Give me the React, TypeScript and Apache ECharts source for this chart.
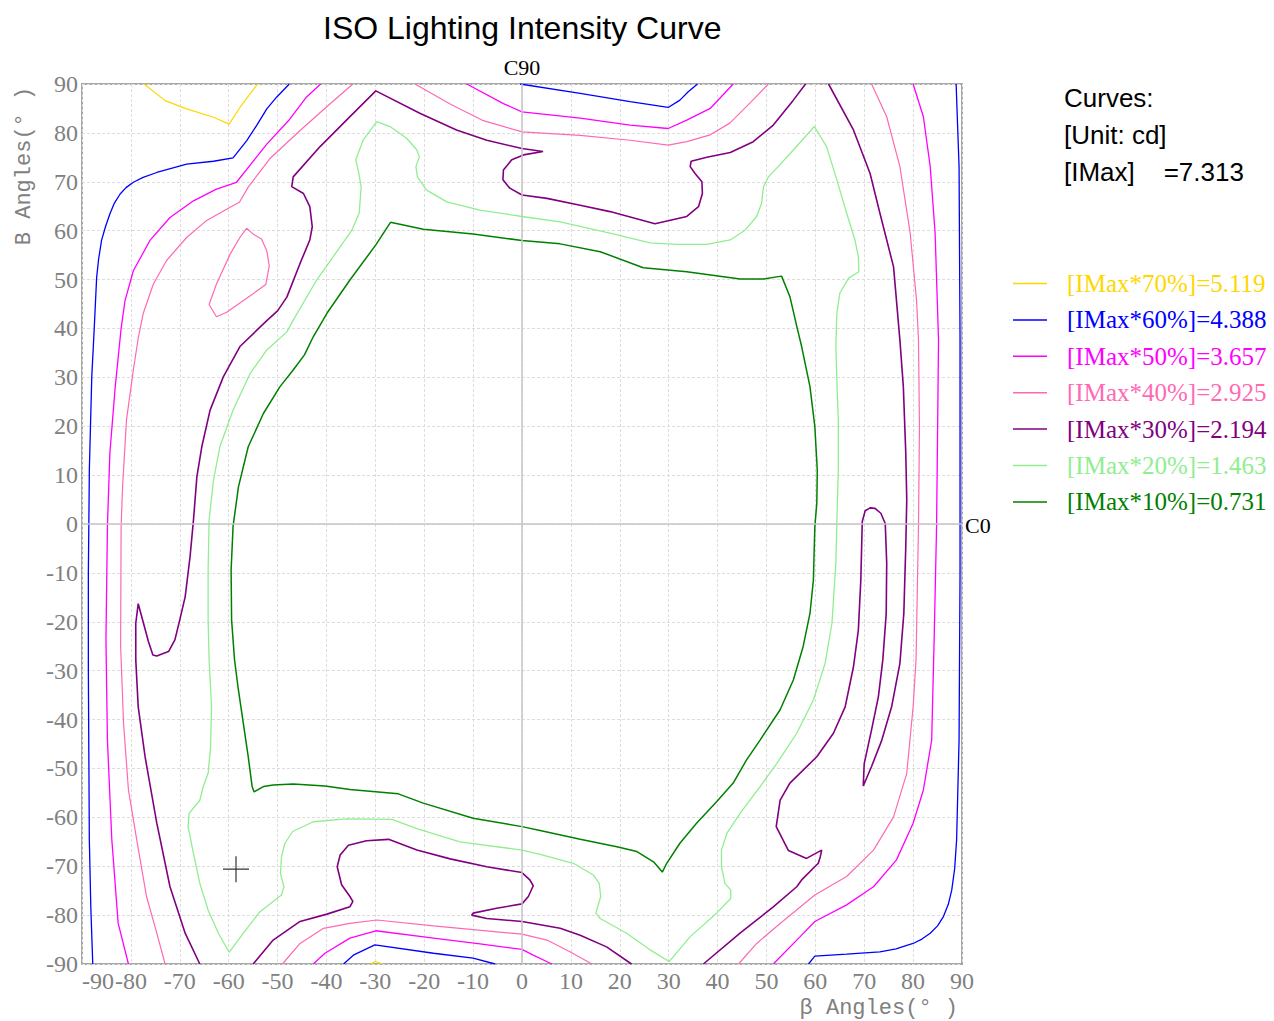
import React, { useEffect, useRef } from "react";
import * as echarts from "echarts";

// ---------- Data (β angle, B angle) ----------
const levelNames = [
  "[IMax*70%]=5.119",
  "[IMax*60%]=4.388",
  "[IMax*50%]=3.657",
  "[IMax*40%]=2.925",
  "[IMax*30%]=2.194",
  "[IMax*20%]=1.463",
  "[IMax*10%]=0.731",
];
const levelColors = ["#FFD700", "#0000FF", "#FF00FF", "#FF69B4", "#800080", "#90EE90", "#008000"];
const levelWidths = [1.2, 1.3, 1.3, 1.2, 1.6, 1.3, 1.5];

const xTicks = [-90, 90, 10];
const yTicks = [-90, 90, 10];

const yellowTop = [[-77.3, 90], [-73.0, 86.6], [-68.6, 84.9], [-63.1, 83.2], [-59.9, 81.8], [-57.7, 85.2], [-54.1, 90]];
const yellowBottom = [[-31, -90], [-30, -89.5], [-28.5, -90]];

const blueLeft = [[-47.6, 90], [-50.2, 87.3], [-52.2, 84.9], [-54.3, 81.5], [-56.3, 78.4], [-59.1, 74.9], [-63.1, 74.2], [-68.6, 73.6], [-74.7, 71.9], [-77.5, 70.9], [-79.5, 69.9], [-81.0, 68.8], [-82.2, 67.5], [-83.4, 65.6], [-84.3, 63.4], [-85.2, 60.8], [-86.0, 58.0], [-86.6, 54.2], [-87.0, 50.5], [-87.5, 40], [-88.0, 30.1], [-88.5, 11.0], [-88.6, 0], [-88.7, -10], [-88.7, -29.9], [-88.5, -64.6], [-88.2, -78.3], [-87.8, -90]];
const blueTop = [[-0.4, 90], [11.9, 88.1], [22.1, 86.4], [29.9, 85.2], [32.3, 86.7], [34.0, 88.4], [35.9, 90]];
const blueRight = [[88.8, 90], [89.4, 73.1], [89.6, 37.6], [89.6, -10], [89.4, -44.2], [88.9, -64.6], [88.5, -70.5], [87.9, -74.9], [87.2, -77.8], [86.2, -80.3], [85.0, -82.2], [83.5, -83.7], [81.8, -84.9], [80.0, -85.8], [76.5, -86.9], [73.2, -87.5], [66.4, -88.0], [59.9, -88.4], [58.6, -90]];
const blueBottom = [[-36.5, -90], [-34.5, -88.2], [-30.1, -86.1], [-18.1, -87.8], [-10.0, -88.8], [-5.5, -90]];

const magentaLeft = [[-41.2, 90], [-44.1, 87.3], [-47.5, 82.8], [-52.2, 77.7], [-58.4, 69.9], [-62.5, 68.5], [-67.2, 66.1], [-72.0, 62.7], [-76.1, 58.0], [-79.5, 51.8], [-81.2, 45.7], [-82.0, 40], [-83.2, 28.1], [-84.3, 14.5], [-84.8, -0.5], [-85.1, -23.7], [-84.8, -44.2], [-83.9, -64.6], [-82.6, -81.7], [-80.5, -90]];
const magentaTop = [[-11.3, 90], [-3.8, 86.0], [0.0, 84.3], [11.9, 83.0], [22.1, 81.6], [29.9, 80.9], [33.7, 82.6], [38.5, 85.0], [43.2, 90]];
const magentaRight = [[80.0, 90], [82.1, 83.3], [83.5, 73.1], [84.5, 59.5], [85.2, 37.6], [84.8, -0.5], [84.3, -23.7], [83.8, -44.2], [82.1, -54.4], [80.0, -61.2], [76.6, -68.7], [71.9, -74.2], [66.4, -77.9], [59.9, -81.3], [56.9, -84.4], [51.4, -90]];
const magentaBottom = [[-42.7, -90], [-40.3, -87.8], [-35.2, -84.7], [-29.9, -83.2], [-18.1, -84.7], [-8.6, -85.9], [0.0, -87.0], [2.3, -88.2], [6.1, -90]];

const pinkLeft = [[-34.6, 90], [-39.3, 85.9], [-45.4, 80.5], [-51.6, 74.7], [-56.0, 68.9], [-57.8, 65.8], [-59.7, 64.8], [-64.5, 62.1], [-68.6, 58.6], [-72.7, 53.9], [-75.4, 49.1], [-77.5, 43.0], [-78.5, 38], [-79.5, 31.5], [-80.9, 21.3], [-81.7, 7.6], [-82.0, -0.5], [-82.1, -25], [-81.5, -40.8], [-80.5, -54.4], [-78.8, -64.6], [-76.8, -76.2], [-74.7, -83.7], [-73.0, -90]];
const pinkIsland = [[-56.3, 60.5], [-55.0, 59.3], [-53.3, 58.3], [-52.2, 55.9], [-51.7, 52.8], [-52.4, 49.0], [-55.0, 47.1], [-58.0, 45.0], [-60.4, 43.3], [-62.5, 42.4], [-64.0, 44.9], [-62.5, 49.1], [-59.7, 55.2], [-57.7, 58.6], [-56.3, 60.5]];
const pinkTop = [[-21.9, 90], [-14.7, 85.9], [-7.9, 82.5], [0.0, 80.2], [11.9, 79.5], [22.1, 78.5], [29.9, 77.5], [33.7, 78.2], [38.5, 79.6], [42.5, 82.0], [46.6, 86.1], [50.4, 90]];
const pinkRight = [[71.5, 90], [74.6, 83.3], [77.3, 73.1], [79.4, 59.5], [80.7, 45.8], [81.1, 37.6], [81.3, 20], [81.1, -0.5], [80.6, -27.8], [80.0, -37.4], [78.7, -51.0], [76.0, -59.9], [71.9, -66.7], [66.4, -72.1], [59.9, -75.9], [52.8, -81.7], [48.0, -85.8], [44.3, -90]];
const pinkBottom = [[-49.0, -90], [-45.4, -85.8], [-40.6, -82.7], [-35.2, -81.7], [-29.7, -81.0], [-18.1, -82.2], [0.0, -83.9], [5.1, -85.1], [9.8, -87.5], [14.3, -90]];

const purpleLeftTop = [[-65.9, -90], [-68.9, -83.7], [-72.0, -74.2], [-74.7, -61.2], [-77.1, -47.6], [-78.5, -37.4], [-79.0, -27.8], [-79.0, -20.3], [-78.5, -16.3], [-76.4, -24.1], [-75.5, -26.8], [-74.7, -27.0], [-73.4, -26.5], [-72.3, -26.1], [-71.0, -23.7], [-70.0, -19.6], [-68.9, -14.9], [-67.9, -6.7], [-67.2, 0.8], [-66.5, 9.7], [-65.5, 15.8], [-63.8, 23.3], [-61.1, 30.1], [-57.7, 36.3], [-52.2, 41.6], [-50.0, 43.6], [-48.1, 46.4], [-45.4, 53.3], [-43.4, 58.1], [-42.9, 60.8], [-43.4, 64.9], [-44.7, 67.6], [-47.1, 69.0], [-46.8, 71.0], [-41.3, 77.2], [-35.9, 82.6], [-29.9, 88.6], [-20.9, 84.0], [-13.4, 80.6], [-7.2, 78.5], [0.0, 76.8], [4.3, 76.2], [0.3, 75.5], [-2.1, 74.5], [-3.8, 72.4], [-3.9, 70.4], [-2.5, 68.7], [0.0, 67.3], [5.1, 66.6], [11.9, 65.2], [18.0, 63.9], [27.2, 61.4], [33.7, 62.9], [36.1, 64.9], [36.9, 67.6], [36.8, 70.0], [35.4, 71.7], [34.4, 73.1], [34.6, 74.2], [37.8, 75.0], [42.6, 76.0], [47.3, 78.2], [51.4, 81.6], [55.5, 86.7], [58.0, 90]];
const purpleRight = [[62.7, 90], [67.8, 80.6], [71.2, 71.7], [73.2, 63.6], [76.0, 52.6], [77.3, 37.6], [78.0, 28.1], [78.5, 14.5], [78.7, 5], [78.5, -4.6], [78.1, -18.3], [77.3, -28.5], [75.6, -37.4], [73.6, -44.2], [71.5, -49.6], [69.8, -53.6], [70.0, -49.0], [71.5, -42.1], [72.9, -35.3], [73.8, -27.8], [74.5, -18.3], [74.6, -8.0], [74.3, 0.1], [73.4, 2.2], [72.2, 3.2], [71.2, 3.3], [70.2, 2.7], [69.6, 0.5], [69.3, -11.5], [68.8, -21.7], [67.8, -29.2], [66.1, -37.4], [63.7, -42.8], [60.3, -47.6], [54.8, -53.0], [52.8, -56.5], [52.0, -61.9], [54.5, -66.8], [58.2, -68.4], [61.3, -66.7], [61.0, -68.1], [60.6, -69.4], [57.2, -72.8], [56.2, -74.2], [51.4, -78.3], [44.6, -83.7], [37.1, -90]];
const purpleBottom = [[-55.0, -90], [-50.9, -85.1], [-45.4, -81.3], [-39.9, -79.8], [-35.2, -78.3], [-34.6, -77.2], [-35.2, -76.2], [-36.9, -73.8], [-37.8, -70.1], [-37.2, -67.7], [-35.5, -65.7], [-31.8, -64.8], [-27.3, -64.5], [-21.5, -66.7], [-14.7, -68.5], [-7.2, -70.1], [0.0, -71.3], [1.6, -72.8], [2.3, -74.0], [1.3, -76.2], [0.0, -77.7], [-5.2, -78.6], [-10.0, -79.6], [-10.3, -80.0], [-7.2, -80.7], [0.0, -81.3], [7.8, -82.7], [11.9, -84.1], [17.3, -86.5], [22.4, -90]];

const lightGreenLoop = [[-29.7, 82.3], [-32.5, 78.5], [-34.0, 74.5], [-33.5, 72.4], [-32.9, 69.0], [-33.3, 63.6], [-34.8, 60.1], [-38.6, 54.7], [-42.0, 49.9], [-46.8, 41.7], [-48.1, 39.3], [-52.2, 35.6], [-55.6, 30.8], [-59.1, 23.3], [-61.8, 15.8], [-63.1, 9.0], [-64.0, 0.8], [-64.2, -9.4], [-64.2, -19.6], [-64.0, -27.8], [-63.5, -37.4], [-63.7, -45.6], [-64.2, -51.0], [-65.2, -53.7], [-65.9, -56.5], [-68.1, -59.2], [-68.3, -61.9], [-67.2, -67.4], [-65.9, -73.5], [-64.2, -79.0], [-62.1, -83.7], [-59.9, -87.6], [-57.0, -83.7], [-53.6, -79.3], [-49.2, -75.9], [-48.7, -74.2], [-49.4, -71.5], [-49.2, -68.1], [-48.5, -65.3], [-46.9, -62.9], [-42.7, -60.9], [-35.9, -60.3], [-26.6, -60.4], [-21.5, -62.3], [-12.7, -65.0], [0.0, -66.7], [3.7, -67.6], [10.5, -69.4], [14.6, -71.8], [15.8, -73.5], [16.1, -76.2], [15.1, -79.6], [16.0, -80.7], [21.4, -83.7], [26.2, -87.1], [30.1, -89.5], [34.4, -84.4], [39.8, -79.6], [42.7, -76.6], [42.7, -74.9], [41.5, -73.5], [40.8, -70.1], [40.8, -66.7], [41.9, -63.3], [44.6, -59.2], [48.7, -53.7], [52.1, -49.0], [56.2, -42.8], [59.6, -36.0], [62.0, -28.5], [63.4, -20.3], [64.2, -8.0], [64.4, 0.1], [64.7, 11.1], [64.7, 21.3], [64.4, 29.5], [64.2, 36.3], [64.4, 43.1], [65.0, 47.2], [66.8, 50.3], [68.9, 51.6], [68.8, 54.7], [68.1, 58.1], [66.4, 63.6], [64.4, 70.4], [62.3, 77.2], [59.8, 81.3], [55.5, 76.5], [52.1, 72.8], [50.4, 71.0], [49.4, 69.0], [49.0, 65.6], [48.0, 62.9], [45.6, 60.1], [42.6, 58.1], [37.8, 57.2], [31.6, 57.2], [26.2, 57.5], [18.0, 59.5], [7.8, 61.8], [0.0, 62.9], [-8.6, 64.2], [-15.4, 65.9], [-19.5, 68.3], [-21.4, 71.0], [-21.7, 73.1], [-21.0, 75.1], [-21.5, 76.5], [-23.6, 78.9], [-27.0, 81.3], [-29.7, 82.3]];

const darkGreenLoop = [[-26.9, 61.7], [-29.9, 57.1], [-35.2, 49.9], [-39.9, 43.1], [-42.7, 38.3], [-44.5, 34.6], [-46.8, 31.5], [-49.5, 28.1], [-52.9, 22.6], [-56.0, 15.8], [-58.0, 7.6], [-59.1, -0.5], [-59.5, -9.4], [-59.4, -19.6], [-58.8, -27.8], [-58.0, -34.0], [-57.0, -40.8], [-56.0, -47.6], [-55.2, -53.7], [-54.8, -54.8], [-52.9, -53.7], [-50.9, -53.4], [-46.8, -53.2], [-40.3, -53.6], [-35.2, -54.3], [-25.3, -55.2], [-20.2, -57.1], [-10.0, -60.2], [0.0, -61.9], [3.7, -62.7], [11.9, -64.5], [19.4, -66.0], [23.5, -67.0], [26.9, -69.1], [28.7, -71.2], [29.6, -69.4], [32.3, -65.3], [35.7, -61.2], [39.8, -56.8], [43.2, -53.0], [45.9, -48.3], [48.7, -44.2], [52.8, -38.0], [55.5, -31.9], [57.5, -25.1], [58.9, -18.3], [59.6, -11.5], [59.9, -0.5], [60.3, 4.2], [60.4, 11.0], [59.9, 19.9], [58.9, 28.1], [57.2, 36.3], [56.3, 40.0], [54.8, 46.5], [53.1, 50.7], [49.4, 50.1], [44.6, 50.1], [33.7, 51.6], [24.8, 52.4], [16.0, 55.7], [7.8, 57.3], [0.0, 58.0], [-10.0, 59.3], [-20.2, 60.3], [-26.9, 61.7]];

const crossPoint = [[-58.5, -70.6]];

const levelSegments = [
  [yellowTop, yellowBottom],
  [blueLeft, blueTop, blueRight, blueBottom],
  [magentaLeft, magentaTop, magentaRight, magentaBottom],
  [pinkLeft, pinkIsland, pinkTop, pinkRight, pinkBottom],
  [purpleLeftTop, purpleRight, purpleBottom],
  [lightGreenLoop],
  [darkGreenLoop],
];

const titleText = "ISO Lighting Intensity Curve";
const infoLines = ["Curves:", "[Unit: cd]", "[IMax]    =7.313"];

export default function App() {
  const ref = useRef<HTMLDivElement>(null);

  useEffect(() => {
    if (!ref.current) return;
    const chart = echarts.init(ref.current, undefined, { renderer: "svg" });

    const series: any[] = [];
    levelSegments.forEach((segs, li) => {
      segs.forEach((seg, si) => {
        const s: any = {
          type: "line",
          name: levelNames[li],
          data: seg,
          symbol: "none",
          showSymbol: false,
          smooth: false,
          z: 3,
          lineStyle: { color: levelColors[li], width: levelWidths[li] },
          itemStyle: { color: levelColors[li] },
          emphasis: { disabled: true },
          silent: true,
        };
        if (li === 0 && si === 0) {
          s.markLine = {
            silent: true,
            symbol: ["none", "none"],
            label: { show: false },
            lineStyle: { color: "#c4c4c4", type: "solid", width: 1.5 },
            emphasis: { disabled: true },
            data: [{ xAxis: 0 }, { yAxis: 0 }],
          };
        }
        series.push(s);
      });
    });

    series.push({
      type: "scatter",
      name: "cross",
      data: crossPoint,
      symbol: "path://M13,0L13,26M0,13L26,13",
      symbolSize: 26,
      itemStyle: { color: "none", borderColor: "#000", borderWidth: 1.2 },
      emphasis: { disabled: true },
      silent: true,
      z: 4,
    });

    const axisLabel = {
      color: "#808080",
      fontFamily: "Liberation Serif",
      fontSize: 24,
    };
    const splitLine = { show: true, lineStyle: { color: "#dddddd", type: [3, 2], width: 1 } };

    chart.setOption({
      animation: false,
      backgroundColor: "#ffffff",
      title: {
        text: titleText,
        left: 318,
        top: 7,
        textStyle: { fontFamily: "Liberation Sans", fontSize: 32, fontWeight: "normal", color: "#000" },
      },
      grid: {
        left: 82,
        top: 84,
        width: 880,
        height: 880,
        show: true,
        borderColor: "#a8a8a8",
        borderWidth: 2,
        backgroundColor: "transparent",
      },
      xAxis: {
        type: "value",
        min: xTicks[0],
        max: xTicks[1],
        interval: xTicks[2],
        axisLine: { show: false },
        axisTick: { show: false },
        axisLabel: { ...axisLabel, margin: 5, alignMinLabel: "left" },
        splitLine,
      },
      yAxis: {
        type: "value",
        min: yTicks[0],
        max: yTicks[1],
        interval: yTicks[2],
        axisLine: { show: false },
        axisTick: { show: false },
        axisLabel: { ...axisLabel, margin: 4 },
        splitLine,
      },
      legend: {
        orient: "vertical",
        left: 1008,
        top: 266,
        itemWidth: 34,
        itemHeight: 1.5,
        itemGap: 11.4,
        icon: "rect",
        selectedMode: false,
        data: levelNames.map((n, i) => ({
          name: n,
          icon: "rect",
          itemStyle: { color: levelColors[i] },
          textStyle: { color: levelColors[i] },
        })),
        textStyle: { fontFamily: "Liberation Serif", fontSize: 25, lineHeight: 24, padding: [0, 0, 0, 15] },
      },
      graphic: [
        {
          type: "text",
          x: 522,
          y: 67,
          style: { text: "C90", fill: "#000", font: '22px "Liberation Serif"', textAlign: "center", textVerticalAlign: "middle", align: "center", verticalAlign: "middle" },
        },
        {
          type: "text",
          x: 965,
          y: 525,
          style: { text: "C0", fill: "#000", font: '22px "Liberation Serif"', textAlign: "left", textVerticalAlign: "middle", align: "left", verticalAlign: "middle" },
        },
        ...infoLines.map((t, i) => ({
          type: "text",
          x: 1064,
          y: 98 + i * 37,
          style: { text: t, fill: "#000", font: '26px "Liberation Sans"', textAlign: "left", textVerticalAlign: "middle", align: "left", verticalAlign: "middle" },
        })),
        {
          type: "text",
          x: 958,
          y: 1008,
          style: { text: "β Angles(° )", fill: "#808080", font: '22px "Liberation Mono"', textAlign: "right", textVerticalAlign: "middle", align: "right", verticalAlign: "middle" },
        },
        {
          type: "text",
          x: 24,
          y: 166,
          rotation: Math.PI / 2,
          style: { text: "B Angles(° )", fill: "#808080", font: '22px "Liberation Mono"', textAlign: "center", textVerticalAlign: "middle", align: "center", verticalAlign: "middle" },
        },
      ],
      series,
    });

    return () => chart.dispose();
  }, []);

  return <div ref={ref} style={{ position: "fixed", left: 0, top: 0, width: 1274, height: 1021 }} />;
}
